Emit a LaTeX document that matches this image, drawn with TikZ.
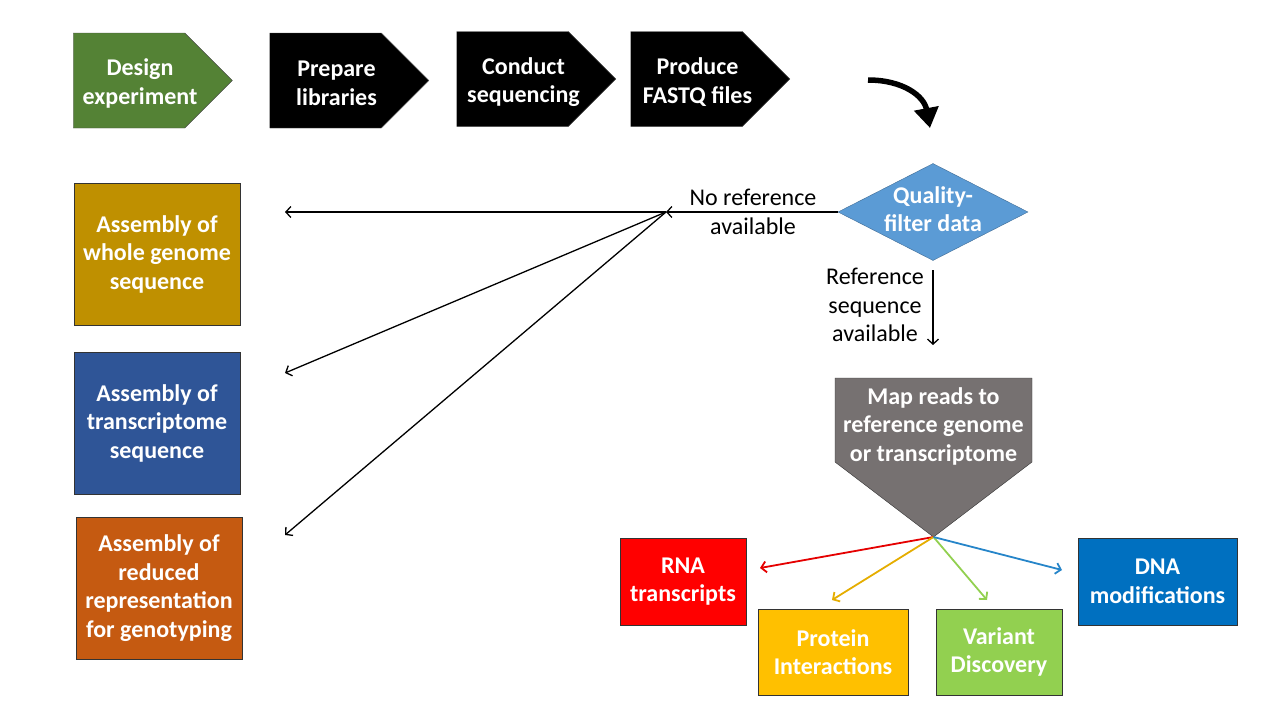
\documentclass[tikz,border=0pt]{standalone}
\usepackage{fontspec}
\setmainfont{Carlito}
\usetikzlibrary{positioning,shapes.geometric,shapes.symbols,arrows.meta}

\definecolor{designgreen}{HTML}{548235}
\definecolor{qualityblue}{HTML}{5B9BD5}
\definecolor{wholegold}{HTML}{BF9000}
\definecolor{transblue}{HTML}{2F5597}
\definecolor{reducedorange}{HTML}{C55A11}
\definecolor{mapgray}{HTML}{767171}
\definecolor{rnared}{HTML}{FF0000}
\definecolor{proteinyellow}{HTML}{FFC000}
\definecolor{variantgreen}{HTML}{92D050}
\definecolor{dnablue}{HTML}{0070C0}

\begin{document}
\begin{tikzpicture}[x=1pt,y=-1pt]
        \tikzset{
            stepshape/.style={shape=signal, signal to=east, signal pointer angle=90,
                minimum width=159pt, minimum height=95pt, inner sep=0pt,
                draw=gray!60!black, thin},
            steplabel/.style={text=white, font=\bfseries\fontsize{24}{28.5}\selectfont,
                align=center, xshift=11pt, yshift=-3pt},
            box/.style={draw=black!80, thin, text=white, inner sep=0pt, align=center,
                font=\bfseries\fontsize{24}{28.5}\selectfont},
            note/.style={font=\fontsize{24}{28.5}\selectfont, align=center},
            link/.style={line width=1.3pt, -{Straight Barb[length=5pt,width=11pt]}},
            maplink/.style={line width=1.8pt, -{Straight Barb[length=5pt,width=11pt]}}
        }
        \useasboundingbox (0,0) rectangle (1267,712);

        \node (design)  [stepshape, fill=designgreen, label={[steplabel]center:{Design\\experiment}}] at (129,80.5) {};
        \node (prepare) [stepshape, fill=black, label={[steplabel]center:{Prepare\\libraries}}] at (325.5,80.5) {};
        \node (conduct) [stepshape, fill=black, label={[steplabel]center:{Conduct\\sequencing}}] at (512.5,79) {};
        \node (produce) [stepshape, fill=black, label={[steplabel]center:{Produce\\FASTQ files}}] at (686.5,79) {};

        \coordinate (bend start) at (868,80);
        \coordinate (bend end) at (930,128);
        \draw[line width=5.5pt, -{Triangle[length=20pt,width=24pt]}]
            (bend start) .. controls (903,80) and (924,96) .. (bend end);

        \node (quality) [shape=diamond, fill=qualityblue, draw=qualityblue!70!black, thin,
            minimum width=190pt, minimum height=97pt, inner sep=0pt,
            label={[steplabel, xshift=-11pt, yshift=6pt]center:{Quality-\\filter data}}] at (933,212) {};

        \node (no ref) [note] at (753,212) {No reference\\available};
        \node (ref) [note] at (875,305) {Reference\\sequence\\available};

        \coordinate (fork) at (666,212);
        \coordinate (to whole) at (285,212);
        \coordinate (to trans) at (285,373);
        \coordinate (to reduced) at (285,535);
        \coordinate (ref start) at (933,270);
        \coordinate (ref end) at (933,345);

        \draw[link] (quality.west) -- (fork);
        \draw[link] (fork) -- (to whole);
        \draw[link] (fork) -- (to trans);
        \draw[link] (fork) -- (to reduced);
        \draw[link] (ref start) -- (ref end);

        \node (whole)   [box, fill=wholegold, minimum width=166pt, minimum height=142pt] at (157,254) {Assembly of\\whole genome\\sequence};
        \node (trans)   [box, fill=transblue, minimum width=166pt, minimum height=142pt] at (157,423) {Assembly of\\transcriptome\\sequence};
        \node (reduced) [box, fill=reducedorange, minimum width=166pt, minimum height=142pt] at (159,588) {Assembly of\\reduced\\representation\\for genotyping};

        \filldraw[fill=mapgray, draw=black!80, thin]
            (835,378) -- (1032,378) -- (1032,462) -- (933.5,537) -- (835,462) -- cycle;
        \node (map) [box, draw=none] at (933.5,426) {Map reads to\\reference genome\\or transcriptome};

        \node (rna)     [box, fill=rnared, minimum width=126pt, minimum height=87pt] at (683,581.5) {RNA\\transcripts};
        \node (protein) [box, fill=proteinyellow, minimum width=150pt, minimum height=86pt] at (833,652) {Protein\\Interactions};
        \node (variant) [box, fill=variantgreen, minimum width=126pt, minimum height=86pt] at (999,652) {Variant\\Discovery};
        \node (dna)     [box, fill=dnablue, minimum width=159pt, minimum height=87pt] at (1157.5,581.5) {DNA\\modifications};

        \coordinate (map tip) at (933.5,537);
        \coordinate (to rna) at (760,568);
        \coordinate (to protein) at (832,600);
        \coordinate (to variant) at (987,600);
        \coordinate (to dna) at (1062,570);

        \draw[maplink, color=rnared!90!black] (map tip) -- (to rna);
        \draw[maplink, color=proteinyellow!90!black] (map tip) -- (to protein);
        \draw[maplink, color=variantgreen] (map tip) -- (to variant);
        \draw[maplink, color=dnablue!85!white] (map tip) -- (to dna);

    \end{tikzpicture}
\end{document}
